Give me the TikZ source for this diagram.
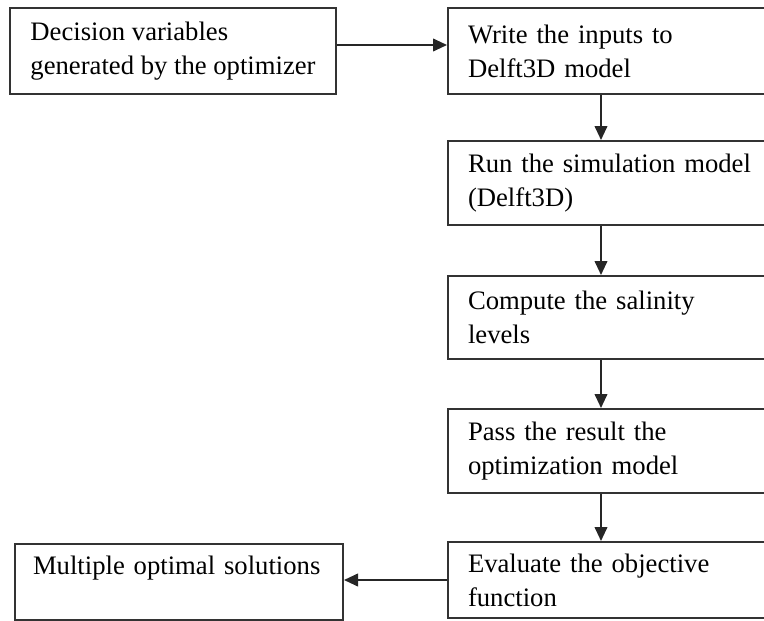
\documentclass[tikz,border=0pt]{standalone}
\usepackage{fontspec}
\setmainfont{Liberation Serif}
\usetikzlibrary{arrows.meta}

\begin{document}
\begin{tikzpicture}[x=0.75pt,y=-0.75pt]
\tikzset{stepbox/.style={rectangle,draw=black!80,line width=1.5pt,anchor=north west,align=left,inner xsep=14pt,inner ysep=0pt,font=\fontsize{20}{25.5}\selectfont},
colbox/.style={stepbox,inner xsep=15pt,text width=236pt},
flow/.style={draw=black!85,line width=1.4pt,-{Triangle[length=10.5pt,width=9.5pt]}}}
\useasboundingbox (0,0) rectangle (764,621);
\clip (0,0) rectangle (764,621);
\coordinate (col) at (601,0);
\node[stepbox,inner xsep=0pt,minimum width=244.5pt,minimum height=64.5pt](dv) at (9,7){Decision variables\\generated by the optimizer};
\node[colbox,minimum height=64.5pt](wi) at (447,7){Write the inputs to\\Delft3D model};
\node[colbox,minimum height=63pt](rs) at (447,140){Run the simulation model\\(Delft3D)};
\node[colbox,minimum height=62.25pt](cs) at (447,275){Compute the salinity\\levels};
\node[colbox,minimum height=63pt](pr) at (447,408){Pass the result the\\optimization model};
\node[colbox,minimum height=57pt](ev) at (447,541){Evaluate the objective\\function};
\node[stepbox,inner xsep=13.5pt,text width=219pt,minimum height=57pt](ms) at (14,543){Multiple optimal solutions\\~};
\draw[flow]([yshift=4.5pt]dv.east) -- ([yshift=4.5pt]dv.east -| wi.west);
\draw[flow](wi.south -| col) -- (rs.north -| col);
\draw[flow](rs.south -| col) -- (cs.north -| col);
\draw[flow](cs.south -| col) -- (pr.north -| col);
\draw[flow](pr.south -| col) -- (ev.north -| col);
\draw[flow](ev.west) -- (ev.west -| ms.east);
\end{tikzpicture}
\end{document}
